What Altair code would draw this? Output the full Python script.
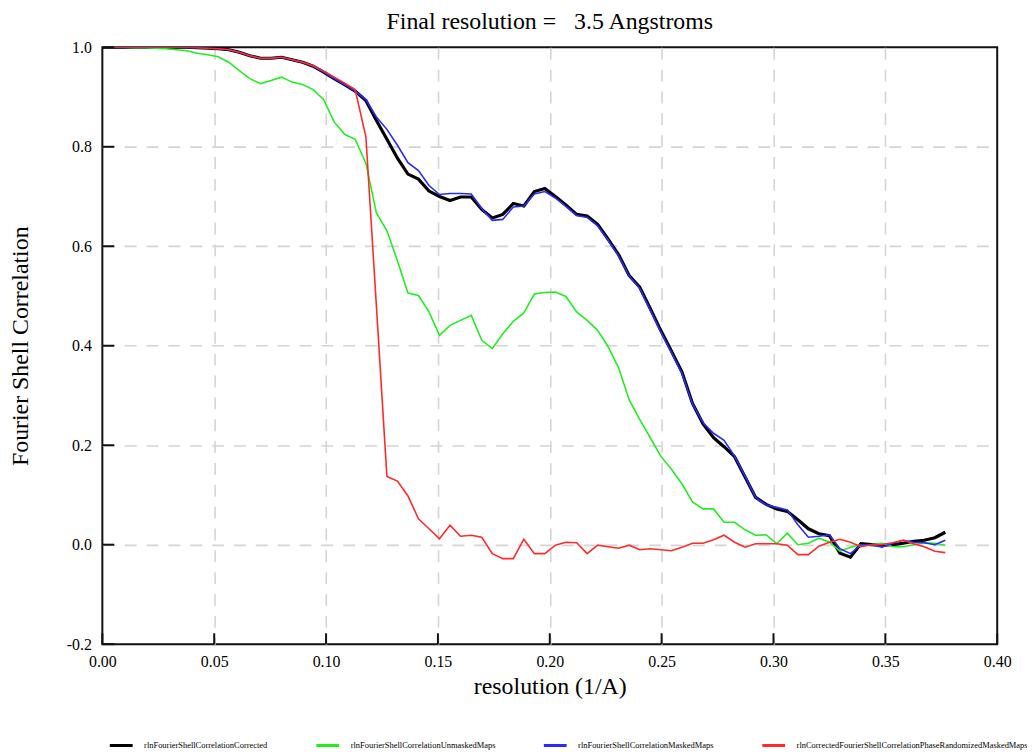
import altair as alt
import pandas as pd

# resolution shells (1/A)
resolution = [
    0.0000, 0.0047, 0.0094, 0.0141, 0.0188, 0.0236, 0.0283, 0.0330, 0.0377, 0.0424,
    0.0471, 0.0518, 0.0565, 0.0612, 0.0659, 0.0707, 0.0754, 0.0801, 0.0848, 0.0895,
    0.0942, 0.0989, 0.1036, 0.1083, 0.1130, 0.1178, 0.1225, 0.1272, 0.1319, 0.1366,
    0.1413, 0.1460, 0.1507, 0.1554, 0.1601, 0.1649, 0.1696, 0.1743, 0.1790, 0.1837,
    0.1884, 0.1931, 0.1978, 0.2025, 0.2072, 0.2120, 0.2167, 0.2214, 0.2261, 0.2308,
    0.2355, 0.2402, 0.2449, 0.2496, 0.2543, 0.2591, 0.2638, 0.2685, 0.2732, 0.2779,
    0.2826, 0.2873, 0.2920, 0.2967, 0.3014, 0.3062, 0.3109, 0.3156, 0.3203, 0.3250,
    0.3297, 0.3344, 0.3391, 0.3438, 0.3485, 0.3533, 0.3580, 0.3627, 0.3674, 0.3721,
    0.3768,
]

fsc_corrected = [
    1.000, 1.000, 1.000, 1.000, 1.000, 1.000, 1.000, 1.000, 1.000, 0.999,
    0.998, 0.997, 0.995, 0.990, 0.983, 0.978, 0.978, 0.980, 0.975, 0.970,
    0.962, 0.950, 0.937, 0.925, 0.912, 0.893, 0.853, 0.815, 0.777, 0.745,
    0.735, 0.711, 0.700, 0.692, 0.699, 0.699, 0.674, 0.657, 0.664, 0.686,
    0.681, 0.710, 0.716, 0.700, 0.683, 0.664, 0.661, 0.644, 0.614, 0.583,
    0.541, 0.518, 0.475, 0.431, 0.390, 0.347, 0.284, 0.243, 0.215, 0.197,
    0.177, 0.136, 0.095, 0.081, 0.072, 0.067, 0.050, 0.032, 0.022, 0.018,
    -0.017, -0.025, 0.002, 0.000, -0.001, 0.000, 0.003, 0.007, 0.009, 0.014,
    0.025,
]

fsc_unmasked = [
    1.000, 1.000, 1.000, 0.999, 0.999, 0.998, 0.997, 0.995, 0.993, 0.988,
    0.985, 0.981, 0.970, 0.953, 0.937, 0.927, 0.933, 0.940, 0.930, 0.925,
    0.915, 0.895, 0.850, 0.825, 0.815, 0.767, 0.667, 0.631, 0.571, 0.506,
    0.501, 0.468, 0.421, 0.441, 0.451, 0.461, 0.411, 0.394, 0.424, 0.449,
    0.466, 0.504, 0.507, 0.508, 0.499, 0.468, 0.451, 0.431, 0.398, 0.355,
    0.291, 0.252, 0.215, 0.178, 0.152, 0.122, 0.086, 0.072, 0.072, 0.045,
    0.045, 0.030, 0.019, 0.020, 0.002, 0.023, 0.000, 0.003, 0.013, 0.005,
    -0.013, -0.005, 0.000, 0.000, 0.003, -0.004, -0.004, 0.000, 0.004, 0.003,
    -0.001,
]

fsc_masked = [
    1.000, 1.000, 1.000, 1.000, 1.000, 1.000, 1.000, 1.000, 1.000, 0.999,
    0.998, 0.997, 0.995, 0.990, 0.983, 0.978, 0.978, 0.980, 0.975, 0.970,
    0.962, 0.950, 0.937, 0.925, 0.912, 0.895, 0.860, 0.835, 0.803, 0.768,
    0.752, 0.722, 0.704, 0.706, 0.706, 0.705, 0.676, 0.652, 0.654, 0.679,
    0.681, 0.705, 0.710, 0.697, 0.680, 0.662, 0.658, 0.641, 0.612, 0.580,
    0.540, 0.515, 0.472, 0.428, 0.387, 0.344, 0.283, 0.245, 0.224, 0.210,
    0.178, 0.138, 0.095, 0.080, 0.075, 0.070, 0.040, 0.015, 0.017, 0.020,
    -0.008, -0.018, 0.000, 0.000, -0.005, 0.003, 0.009, 0.005, 0.004, 0.000,
    0.009,
]

fsc_phase_randomized = [
    1.000, 1.000, 1.000, 1.000, 1.000, 1.000, 1.000, 1.000, 1.000, 0.999,
    0.998, 0.997, 0.995, 0.990, 0.983, 0.978, 0.978, 0.980, 0.975, 0.970,
    0.963, 0.952, 0.940, 0.928, 0.915, 0.820, 0.480, 0.137, 0.128, 0.098,
    0.052, 0.032, 0.012, 0.039, 0.017, 0.019, 0.015, -0.018, -0.028, -0.028,
    0.011, -0.018, -0.018, -0.001, 0.005, 0.004, -0.018, -0.001, -0.004, -0.007,
    -0.001, -0.010, -0.008, -0.010, -0.012, -0.005, 0.003, 0.003, 0.010, 0.019,
    0.005, -0.005, 0.002, 0.002, 0.002, -0.001, -0.020, -0.020, -0.003, 0.005,
    0.011, 0.005, -0.004, 0.000, 0.000, 0.004, 0.009, 0.002, -0.004, -0.013,
    -0.016,
]

series_names = [
    "rlnFourierShellCorrelationCorrected",
    "rlnFourierShellCorrelationUnmaskedMaps",
    "rlnFourierShellCorrelationMaskedMaps",
    "rlnCorrectedFourierShellCorrelationPhaseRandomizedMaskedMaps",
]
series_colors = ["#000000", "#22ee22", "#2a2aff", "#ff2a2a"]
series_widths = [3.2, 1.6, 1.6, 1.6]
series_values = [fsc_corrected, fsc_unmasked, fsc_masked, fsc_phase_randomized]

x_ticks = [0.0, 0.05, 0.10, 0.15, 0.20, 0.25, 0.30, 0.35, 0.40]
y_ticks = [-0.2, 0.0, 0.2, 0.4, 0.6, 0.8, 1.0]

rows = []
for name, vals in zip(series_names, series_values):
    for r, v in zip(resolution, vals):
        rows.append({"res": r, "fsc": v, "series": name})
df = pd.DataFrame(rows)

FONT = "Liberation Serif"
W, H = 901, 601

xscale = alt.Scale(domain=[0, 0.4], nice=False, zero=False)
yscale = alt.Scale(domain=[-0.2, 1.0], nice=False, zero=False)

x_axis = alt.Axis(
    values=x_ticks, format=".2f", title="resolution (1/A)",
    labelPadding=9, titlePadding=6, labelFlush=False,
    gridOpacity={"condition": {"test": "datum.value <= 0.001 || datum.value >= 0.399",
                               "value": 0}, "value": 1},
)
y_axis = alt.Axis(
    values=y_ticks, format=".1f", title="Fourier Shell Correlation",
    labelPadding=11, titlePadding=34, labelFlush=False,
    labelExpr="replace(datum.label, '\u2212', '-')",
    gridOpacity={"condition": {"test": "datum.value <= -0.199 || datum.value >= 0.999",
                               "value": 0}, "value": 1},
)

color = alt.Color(
    "series:N",
    scale=alt.Scale(domain=series_names, range=series_colors),
    legend=alt.Legend(
        title=None, orient="none", legendX=6, legendY=690,
        direction="horizontal", columns=4, symbolType="stroke",
        symbolSize=529, symbolStrokeWidth=3, labelFont=FONT, labelFontSize=8.5,
        labelOffset=10, columnPadding=42, labelLimit=500, labelColor="#000",
    ),
)

layers = []
for name, w in zip(series_names, series_widths):
    layer = (
        alt.Chart(df)
        .transform_filter(alt.datum.series == name)
        .mark_line(strokeWidth=w, clip=True)
        .encode(
            x=alt.X("res:Q", scale=xscale, axis=x_axis),
            y=alt.Y("fsc:Q", scale=yscale, axis=y_axis),
            color=color,
            order=alt.Order("res:Q"),
        )
    )
    layers.append(layer)

xt = pd.DataFrame({"t": x_ticks})
yt = pd.DataFrame({"t": y_ticks})
x_tick_marks = alt.Chart(xt).mark_rule(color="#111", strokeWidth=2).encode(
    x=alt.X("t:Q", scale=xscale, axis=x_axis),
    y=alt.value(H), y2=alt.value(H - 11),
)
y_tick_marks = alt.Chart(yt).mark_rule(color="#111", strokeWidth=2).encode(
    y=alt.Y("t:Q", scale=yscale, axis=y_axis),
    x=alt.value(0), x2=alt.value(12),
)

# draw order: black, green, blue, red on top
chart = alt.layer(*layers, x_tick_marks, y_tick_marks).properties(
    width=W, height=H,
    title=alt.TitleParams(
        text="Final resolution = \u00a0\u00a03.5 Angstroms",
        font=FONT, fontSize=24, fontWeight="normal", color="#000",
        offset=5, anchor="middle",
    ),
    autosize=alt.AutoSizeParams(type="none"),
    padding={"left": 95, "top": 37, "right": 30, "bottom": 106},
).configure(
    background="white"
).configure_view(
    stroke="#111", strokeWidth=2
).configure_axis(
    grid=True, ticks=False, domain=False,
    labelFont=FONT, labelFontSize=16, labelColor="#000",
    titleFont=FONT, titleFontSize=24, titleFontWeight="normal", titleColor="#000",
    gridDash=[12, 10], gridColor="#d4d4d4", gridWidth=1.6,
)

chart.save("out.html", embed_options={"renderer": "svg", "actions": False})
